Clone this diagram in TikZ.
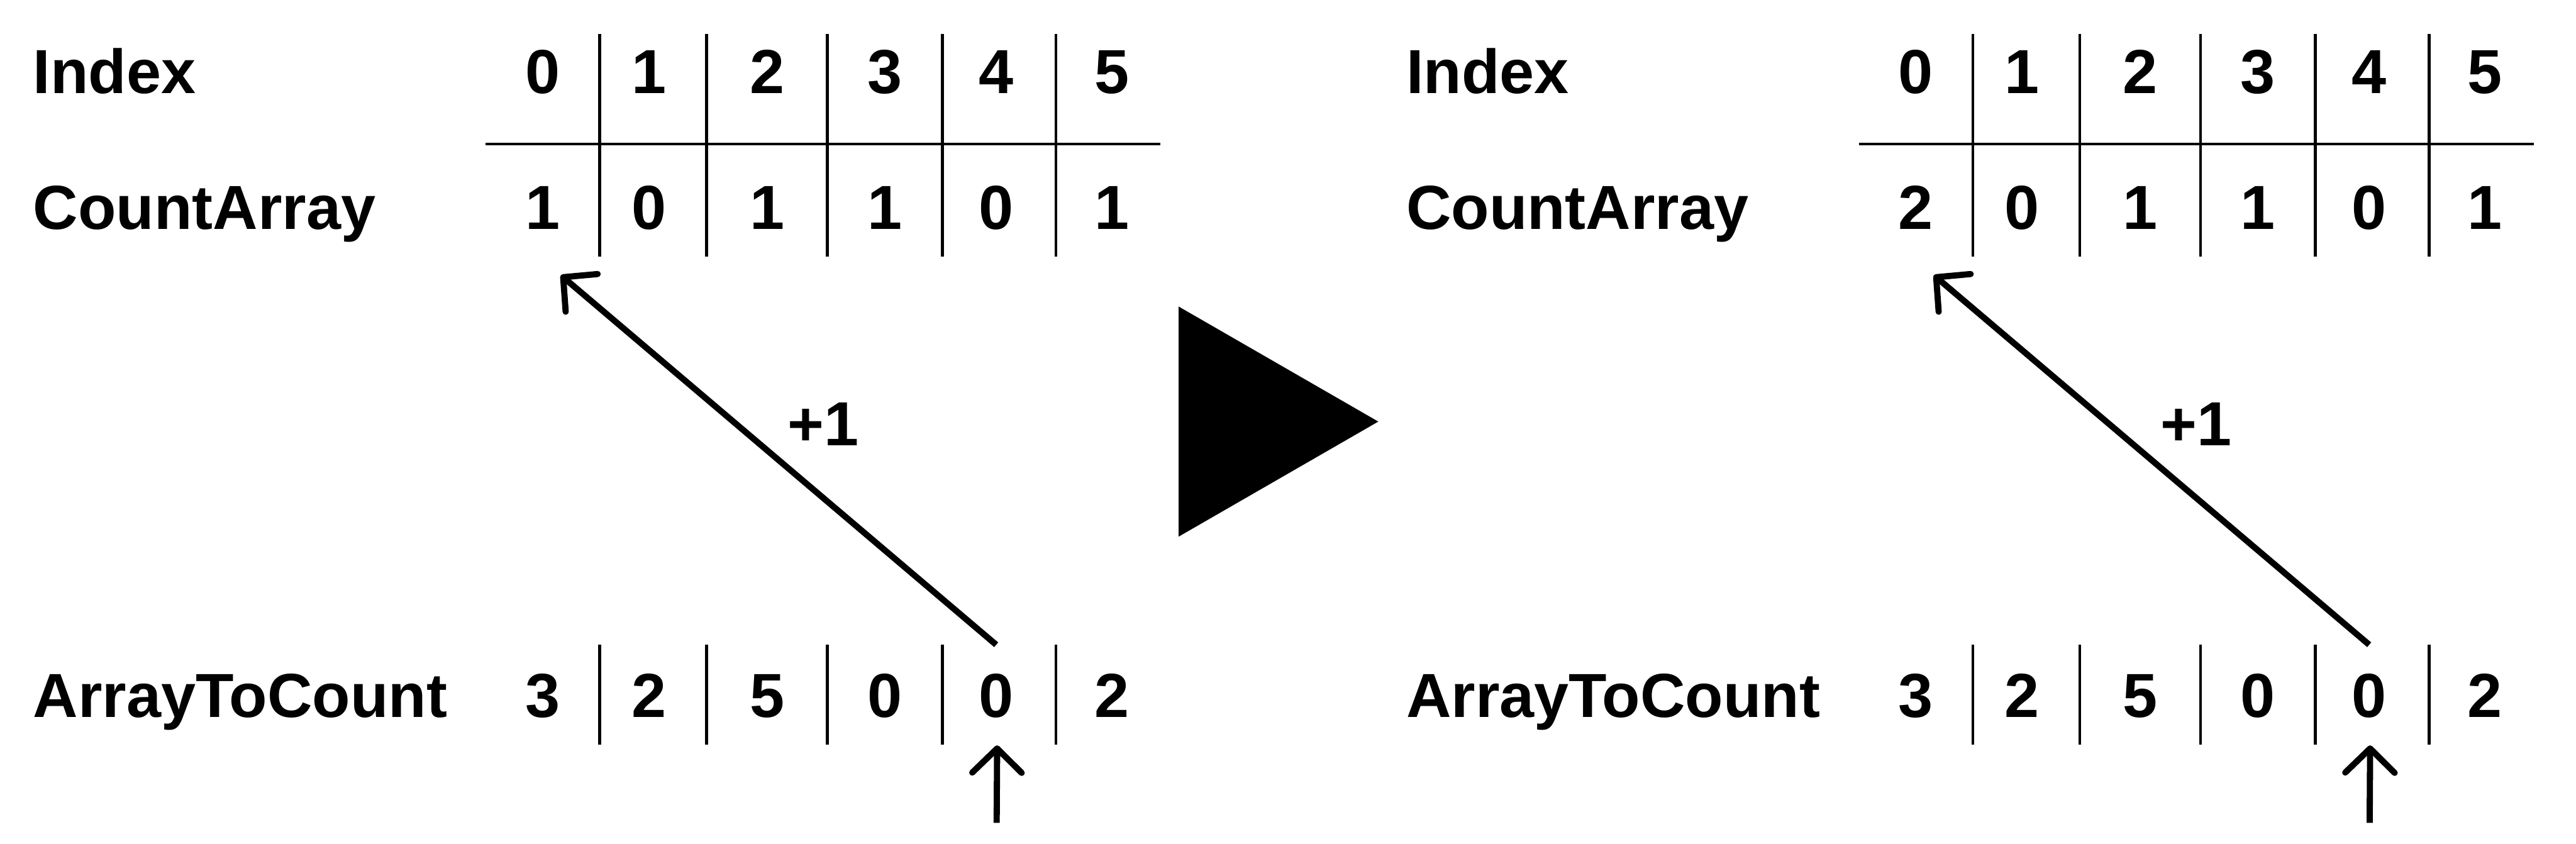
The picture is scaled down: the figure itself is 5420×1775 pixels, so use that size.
\documentclass[tikz,border=0pt]{standalone}
\usepackage{fontspec}
\setmainfont{Liberation Sans}
\usetikzlibrary{arrows.meta,calc}
\tikzset{
  txt/.style={inner sep=0pt, font=\fontsize{13.1pt}{15pt}\selectfont\bfseries},
  lbl/.style={txt, anchor=base west},
  num/.style={txt, anchor=base},
  rule/.style={line width=0.6pt},
  ptr/.style={line width=1.3pt, -{Straight Barb[length=5.1pt,width=10.4pt,round]}},
}
\newcommand\mypanel[3]{%
  \begin{scope}[xshift=#2]
    \node[lbl] (#1-idx) at (68,196) {Index};
    \node[lbl] (#1-cnt) at (68,482) {CountArray};
    \node[lbl] (#1-arr) at (68,1509) {ArrayToCount};
    \foreach \v [count=\i from 0] in {0,1,2,3,4,5} {
      \pgfmathsetmacro\xx{{1142,1365,1614,1862,2096,2339}[\i]}
      \node[num] (#1-i\i) at (\xx,196) {\v};
    }
    \foreach \v [count=\i from 0] in {#3} {
      \pgfmathsetmacro\xx{{1142,1365,1614,1862,2096,2339}[\i]}
      \node[num] (#1-c\i) at (\xx,482) {\v};
    }
    \foreach \v [count=\i from 0] in {3,2,5,0,0,2} {
      \pgfmathsetmacro\xx{{1142,1365,1614,1862,2096,2339}[\i]}
      \node[num] (#1-a\i) at (\xx,1509) {\v};
    }
    \draw[rule] (1022,303) -- (2442,303);
    \foreach \x in {1262,1487,1741,1983,2222} {
      \draw[rule] (\x,72) -- (\x,540);
      \draw[rule] (\x,1356) -- (\x,1567);
    }
    \node[num] (#1-plus) at (1732,937) {+1};
  \end{scope}%
}
\begin{document}
\begin{tikzpicture}[x=0.1pt,y=-0.1pt]
  \useasboundingbox (0,0) rectangle (5420,1775);
  \fill[white] (0,0) rectangle (5420,1775);
  \mypanel{L}{0pt}{1,0,1,1,0,1}
  \mypanel{R}{288.9pt}{2,0,1,1,0,1}
  \fill (2480,645) -- (2480,1129) -- (2900,887) -- cycle;
  \foreach \p in {L,R} {
    \draw[ptr] ($(\p-a4.north)+(0,-59)$) -- ($(\p-c0.south)+(38,95)$);
    \draw[ptr] ($(\p-a4.south)+(1,219)$) -- ($(\p-a4.south)+(2,56)$);
  }
\end{tikzpicture}
\end{document}
